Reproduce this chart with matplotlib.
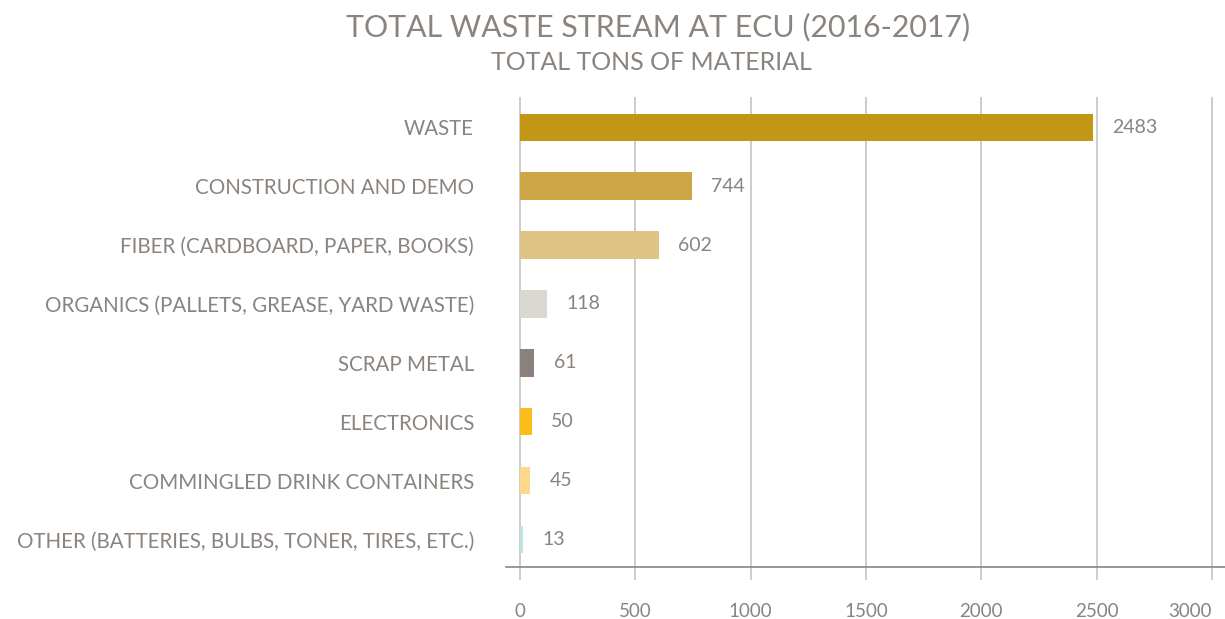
import matplotlib
matplotlib.use("Agg")
import matplotlib.pyplot as plt

categories = ["WASTE", "CONSTRUCTION AND DEMO", "FIBER (CARDBOARD, PAPER, BOOKS)",
              "ORGANICS (PALLETS, GREASE, YARD WASTE)", "SCRAP METAL", "ELECTRONICS",
              "COMMINGLED DRINK CONTAINERS", "OTHER (BATTERIES, BULBS, TONER, TIRES, ETC.)"]
values = [2483, 744, 602, 118, 61, 50, 45, 13]
colors = ["#C49616", "#CFA646", "#E0C485", "#D9D7D0", "#8A817C", "#FBBD1A", "#FDD78A", "#BFE3E0"]
xticks = [0, 500, 1000, 1500, 2000, 2500, 3000]

txt = "#8A837E"
grid = "#C8C8C8"
plt.rcParams['font.family'] = ['Lato', 'DejaVu Sans']

fig = plt.figure(figsize=(12.25, 6.19), dpi=100)
ax = fig.add_axes([506/1225, 1-567/619, 1-506/1225, (567-97)/619])

y = list(range(len(categories)))
ax.barh(y, values, height=0.46, color=colors, zorder=3)
for yi, v in zip(y, values):
    ax.text(v + 85, yi, str(v), va="center", ha="left", color=txt, fontsize=14, zorder=4)

ax.set_xlim(-61, 3057)
ax.set_ylim(7.46, -0.51)
ax.set_xticks(xticks)
ax.set_xticklabels([str(t) for t in xticks])
ax.get_xticklabels()[-1].set_horizontalalignment("right")
ax.set_yticks(y)
ax.set_yticklabels(categories)
ax.grid(axis="x", color=grid, linewidth=1.3, zorder=0)
for s in ["top", "right", "left"]:
    ax.spines[s].set_visible(False)
ax.spines["bottom"].set_color("#8A8680")
ax.spines["bottom"].set_linewidth(1.2)
ax.tick_params(axis="x", length=9, color=grid, width=1.3, pad=17, labelcolor=txt, labelsize=13.5)
ax.tick_params(axis="y", length=0, pad=23, labelcolor=txt, labelsize=14.8)

fig.text(0.537, 1-27/619, "TOTAL WASTE STREAM AT ECU (2016-2017)", ha="center", va="center",
         color=txt, fontsize=21.8)
fig.text(0.532, 1-62/619, "TOTAL TONS OF MATERIAL", ha="center", va="center",
         color=txt, fontsize=18)

fig.savefig("out.png", dpi=100)
